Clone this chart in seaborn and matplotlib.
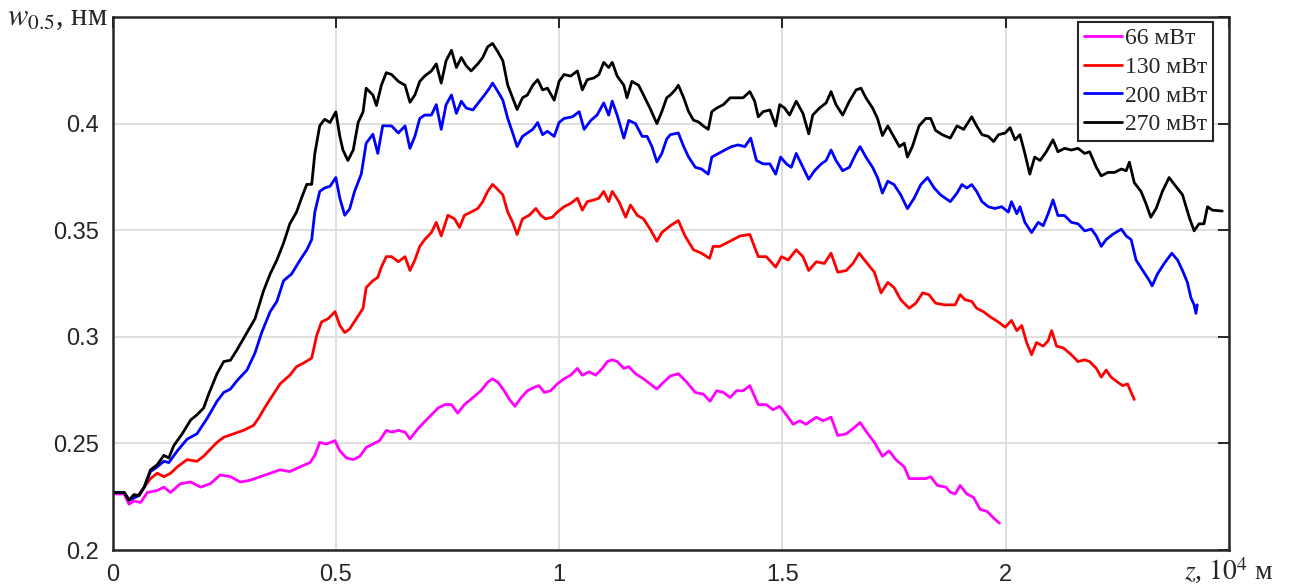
import matplotlib
matplotlib.use("Agg")
import matplotlib.pyplot as plt
import pandas as pd
import seaborn as sns


powers = ["66 мВт", "130 мВт", "200 мВт", "270 мВт"]
colors = ["#ff00ff", "#ff0000", "#0000ff", "#000000"]

xticks = [0, 0.5, 1, 1.5, 2, 2.5]
xticklabels = ["0", "0.5", "1", "1.5", "2", ""]
yticks = [0.2, 0.25, 0.3, 0.35, 0.4, 0.45]
yticklabels = ["0.2", "0.25", "0.3", "0.35", "0.4", ""]

# 66 mW
z_66 = [0, 0.026, 0.037, 0.048, 0.063, 0.078, 0.100, 0.115, 0.130, 0.152,
        0.175, 0.197, 0.219, 0.241, 0.264, 0.286, 0.308, 0.331, 0.353, 0.375,
        0.397, 0.420, 0.442, 0.453, 0.464, 0.479, 0.498, 0.509, 0.524, 0.539,
        0.554, 0.568, 0.583, 0.598, 0.613,
        0.625, 0.640, 0.655, 0.666, 0.684, 0.699, 0.714, 0.729, 0.744, 0.759,
        0.773, 0.788, 0.807, 0.825, 0.840, 0.851, 0.863, 0.877, 0.889, 0.901,
        0.915, 0.929, 0.944, 0.955, 0.967, 0.981, 0.996, 1.011, 1.026, 1.041,
        1.052, 1.067, 1.082, 1.097, 1.108, 1.119, 1.130, 1.145, 1.156, 1.171,
        1.189, 1.204, 1.219, 1.230,
        1.249, 1.267, 1.286, 1.305, 1.323, 1.338, 1.353, 1.368, 1.383, 1.397,
        1.412, 1.427, 1.446, 1.464, 1.479, 1.494, 1.509, 1.524, 1.539, 1.553,
        1.576, 1.591, 1.609, 1.624, 1.643, 1.658, 1.674, 1.687, 1.706, 1.724,
        1.739, 1.754, 1.773, 1.784, 1.802, 1.821, 1.832, 1.847, 1.866,
        1.876, 1.887, 1.898, 1.913, 1.928, 1.943, 1.958, 1.973, 1.986]
w_66 = [0.2263, 0.2263, 0.2215, 0.223, 0.2223, 0.227, 0.2279, 0.2295, 0.227, 0.2311,
        0.2319, 0.2295, 0.2311, 0.2352, 0.2344, 0.2319, 0.2327, 0.2344, 0.236, 0.2376,
        0.2368, 0.239, 0.241, 0.2444, 0.2505, 0.2497, 0.2513, 0.2465, 0.2432, 0.2424,
        0.244, 0.2481, 0.2497, 0.2513, 0.2561,
        0.2553, 0.2561, 0.2553, 0.2521, 0.2569, 0.2602, 0.2634, 0.2666, 0.2682, 0.2682,
        0.2642, 0.2682, 0.2715, 0.2747, 0.2787, 0.2803, 0.2787, 0.2747, 0.2706, 0.2674,
        0.2715, 0.2747, 0.2763, 0.2771, 0.2739, 0.2747, 0.2779, 0.2803, 0.282, 0.2852,
        0.282, 0.2836, 0.282, 0.2852, 0.2884, 0.2892, 0.2884, 0.2852, 0.286, 0.2827,
        0.2803, 0.2779, 0.2755, 0.2779,
        0.2816, 0.2827, 0.2787, 0.2739, 0.2731, 0.2698, 0.2747, 0.2739, 0.2715, 0.2747,
        0.2747, 0.2771, 0.2682, 0.2682, 0.2658, 0.2674, 0.2634, 0.259, 0.2606, 0.259,
        0.2623, 0.2606, 0.2623, 0.2537, 0.2545, 0.2569, 0.2598, 0.2558, 0.2505, 0.244,
        0.2465, 0.2424, 0.239, 0.2335, 0.2335, 0.2335, 0.2344, 0.2303, 0.2295,
        0.2271, 0.2263, 0.2303, 0.2263, 0.2247, 0.219, 0.2182, 0.215, 0.2126]

# 130 mW
z_130 = [0, 0.026, 0.037, 0.059, 0.071, 0.085, 0.100, 0.115, 0.130, 0.145,
         0.167, 0.189, 0.204, 0.219, 0.234, 0.249, 0.271, 0.293, 0.316, 0.327,
         0.345, 0.360, 0.375, 0.397, 0.412, 0.427, 0.446, 0.457, 0.468, 0.483,
         0.498, 0.509, 0.520, 0.531, 0.546, 0.561, 0.568, 0.583, 0.594, 0.602,
         0.613,
         0.625, 0.640, 0.655, 0.666, 0.677, 0.688, 0.699, 0.714, 0.725, 0.736,
         0.751, 0.766, 0.777, 0.788, 0.803, 0.818, 0.829, 0.840, 0.851, 0.863,
         0.874, 0.885, 0.896, 0.906, 0.918, 0.933, 0.948, 0.959, 0.970, 0.985,
         0.996, 1.011, 1.026, 1.041, 1.052, 1.063, 1.078, 1.089, 1.100, 1.111,
         1.119, 1.134, 1.149, 1.160, 1.175, 1.189, 1.204, 1.219, 1.230,
         1.249, 1.267, 1.282, 1.301, 1.319, 1.337, 1.345, 1.360, 1.375, 1.390,
         1.405, 1.427, 1.446, 1.464, 1.485, 1.498, 1.513, 1.531, 1.546, 1.559,
         1.576, 1.594, 1.609, 1.624, 1.643, 1.658, 1.672, 1.687, 1.706, 1.721,
         1.736, 1.750, 1.765, 1.784, 1.799, 1.814, 1.828, 1.843, 1.862,
         1.876, 1.887, 1.898, 1.909, 1.924, 1.935, 1.950, 1.965, 1.984, 1.999,
         2.013, 2.025, 2.036, 2.047, 2.058, 2.069, 2.084, 2.095, 2.103, 2.114,
         2.129, 2.147, 2.162, 2.177, 2.188, 2.203, 2.214, 2.225, 2.236, 2.251,
         2.262, 2.273, 2.281, 2.288]
w_130 = [0.227, 0.227, 0.2234, 0.226, 0.2295, 0.2335, 0.236, 0.2344, 0.236, 0.239,
         0.2424, 0.2416, 0.244, 0.2473, 0.2505, 0.2529, 0.2545, 0.2561, 0.2585, 0.2618,
         0.2682, 0.273, 0.2779, 0.282, 0.286, 0.2876, 0.290, 0.3005, 0.307, 0.3085,
         0.3118, 0.3053, 0.302, 0.3037, 0.3085, 0.3134, 0.3231, 0.3263, 0.3279, 0.3327,
         0.3376,
         0.3376, 0.3352, 0.3376, 0.3311, 0.336, 0.3424, 0.3456, 0.3489, 0.3537, 0.3473,
         0.357, 0.3553, 0.3513, 0.357, 0.3585, 0.3602, 0.3634, 0.3682, 0.3715, 0.369,
         0.3666, 0.3585, 0.3537, 0.348, 0.3553, 0.357, 0.3602, 0.357, 0.3553, 0.3561,
         0.3585, 0.361, 0.3626, 0.365, 0.3594, 0.3634, 0.3642, 0.365, 0.3682, 0.3634,
         0.3682, 0.3634, 0.3561, 0.3618, 0.357, 0.3553, 0.3505, 0.3448, 0.3489,
         0.3521, 0.3545, 0.3473, 0.3408, 0.3392, 0.3368, 0.3424, 0.3424, 0.344, 0.3456,
         0.3473, 0.348, 0.3376, 0.3376, 0.3327, 0.3376, 0.336, 0.3408, 0.3376, 0.3311,
         0.3352, 0.3344, 0.3392, 0.3303, 0.3311, 0.3344, 0.3392, 0.3352, 0.3303, 0.3206,
         0.3255, 0.3231, 0.3174, 0.3134, 0.3158, 0.3206, 0.3198, 0.3158, 0.315,
         0.315, 0.315, 0.3198, 0.3174, 0.3166, 0.3134, 0.3118, 0.3094, 0.3069, 0.3045,
         0.3077, 0.3029, 0.3053, 0.2973, 0.2916, 0.2973, 0.2956, 0.2981, 0.3029, 0.2956,
         0.2948, 0.2916, 0.2884, 0.2892, 0.2884, 0.2852, 0.2811, 0.2844, 0.2811, 0.2787,
         0.2771, 0.2779, 0.2739, 0.2706]

# 200 mW
z_200 = [0, 0.026, 0.037, 0.059, 0.071, 0.085, 0.100, 0.115, 0.126, 0.145,
         0.167, 0.189, 0.212, 0.234, 0.249, 0.264, 0.279, 0.301, 0.319, 0.334,
         0.353, 0.368, 0.383, 0.401, 0.420, 0.435, 0.446, 0.453, 0.464, 0.475,
         0.487, 0.500, 0.509, 0.520, 0.531, 0.542, 0.557, 0.568, 0.583, 0.594,
         0.605,
         0.625, 0.640, 0.655, 0.666, 0.677, 0.688, 0.699, 0.714, 0.725, 0.736,
         0.747, 0.759, 0.770, 0.781, 0.792, 0.807, 0.822, 0.833, 0.844, 0.851,
         0.863, 0.874, 0.885, 0.896, 0.906, 0.918, 0.929, 0.941, 0.952, 0.963,
         0.974, 0.989, 1.000, 1.011, 1.030, 1.045, 1.056, 1.071, 1.085, 1.100,
         1.111, 1.119, 1.130, 1.145, 1.156, 1.171, 1.186, 1.197, 1.208, 1.219,
         1.230, 1.241,
         1.249, 1.267, 1.279, 1.290, 1.305, 1.319, 1.334, 1.342, 1.357, 1.371,
         1.386, 1.401, 1.416, 1.429, 1.442, 1.457, 1.472, 1.485, 1.496, 1.509,
         1.520, 1.531, 1.546, 1.559, 1.572, 1.587, 1.598, 1.609, 1.620, 1.635,
         1.650, 1.665, 1.674, 1.687, 1.702, 1.713, 1.724, 1.736, 1.750, 1.765,
         1.780, 1.795, 1.810, 1.825, 1.840, 1.854,
         1.876, 1.891, 1.902, 1.913, 1.924, 1.935, 1.947, 1.961, 1.976, 1.991,
         2.006, 2.013, 2.025, 2.032, 2.043, 2.058, 2.073, 2.084, 2.095, 2.106,
         2.117, 2.132, 2.147, 2.162, 2.177, 2.192, 2.203, 2.214, 2.225, 2.240,
         2.259, 2.270, 2.281, 2.292, 2.307, 2.322, 2.328, 2.340, 2.355, 2.372,
         2.385, 2.396, 2.407, 2.415, 2.422, 2.426, 2.429]
w_200 = [0.227, 0.227, 0.2234, 0.2255, 0.2295, 0.2368, 0.239, 0.2416, 0.241, 0.2465,
         0.252, 0.2545, 0.2618, 0.2698, 0.2739, 0.2755, 0.2795, 0.2844, 0.2924, 0.302,
         0.3118, 0.3166, 0.3263, 0.3295, 0.336, 0.3408, 0.3456, 0.3585, 0.3682, 0.3698,
         0.3706, 0.3747, 0.365, 0.357, 0.360, 0.3682, 0.3763, 0.3908, 0.395, 0.386,
         0.399,
         0.3989, 0.3956, 0.3989, 0.3884, 0.394, 0.4024, 0.404, 0.404, 0.4089, 0.3973,
         0.4089, 0.4134, 0.4048, 0.4105, 0.4073, 0.4064, 0.4105, 0.4134, 0.4166, 0.419,
         0.415, 0.411, 0.4024, 0.3956, 0.3892, 0.394, 0.3956, 0.3973, 0.4005, 0.3948,
         0.3964, 0.394, 0.4005, 0.4024, 0.4032, 0.4056, 0.3973, 0.4015, 0.404, 0.4097,
         0.404, 0.4105, 0.404, 0.3932, 0.4015, 0.400, 0.394, 0.394, 0.3892, 0.382,
         0.386, 0.3928,
         0.3948, 0.3956, 0.3892, 0.3843, 0.3795, 0.3787, 0.3763, 0.3843, 0.386, 0.3876,
         0.3892, 0.390, 0.3892, 0.3932, 0.3827, 0.3811, 0.3811, 0.3763, 0.3843, 0.3811,
         0.3795, 0.386, 0.3795, 0.3739, 0.3779, 0.3811, 0.3827, 0.3876, 0.3827, 0.3779,
         0.3795, 0.386, 0.3892, 0.3843, 0.3795, 0.3747, 0.3674, 0.373, 0.3714, 0.3666,
         0.3601, 0.365, 0.3714, 0.3747, 0.3698, 0.3666,
         0.3634, 0.3674, 0.3714, 0.3698, 0.3714, 0.3682, 0.3634, 0.361, 0.3602, 0.361,
         0.3585, 0.3634, 0.3577, 0.361, 0.3537, 0.3489, 0.3537, 0.3521, 0.3577, 0.3642,
         0.3569, 0.3569, 0.3537, 0.353, 0.3497, 0.3505, 0.3473, 0.3424, 0.3456, 0.3481,
         0.3505, 0.3473, 0.3456, 0.336, 0.3311, 0.3263, 0.3239, 0.3295, 0.3344, 0.3392,
         0.336, 0.3311, 0.3255, 0.3182, 0.315, 0.311, 0.315]

# 270 mW
z_270 = [0, 0.026, 0.037, 0.048, 0.059, 0.071, 0.085, 0.100, 0.115, 0.126,
         0.137, 0.156, 0.175, 0.189, 0.204, 0.215, 0.234, 0.249, 0.264, 0.279,
         0.301, 0.319, 0.338, 0.353, 0.368, 0.383, 0.397, 0.412, 0.423, 0.435,
         0.446, 0.453, 0.464, 0.475, 0.487, 0.500, 0.509, 0.516, 0.527, 0.539,
         0.550, 0.561, 0.568, 0.583, 0.591, 0.602, 0.613,
         0.625, 0.640, 0.655, 0.666, 0.677, 0.688, 0.699, 0.714, 0.725, 0.736,
         0.747, 0.759, 0.770, 0.781, 0.792, 0.803, 0.818, 0.829, 0.840, 0.851,
         0.863, 0.874, 0.885, 0.896, 0.906, 0.918, 0.929, 0.941, 0.952, 0.963,
         0.974, 0.989, 1.000, 1.011, 1.026, 1.041, 1.052, 1.063, 1.078, 1.089,
         1.100, 1.111, 1.119, 1.130, 1.145, 1.152, 1.163, 1.178, 1.189, 1.204,
         1.219, 1.230, 1.241,
         1.249, 1.260, 1.267, 1.279, 1.290, 1.301, 1.312, 1.323, 1.334, 1.342,
         1.353, 1.368, 1.383, 1.397, 1.412, 1.427, 1.438, 1.446, 1.457, 1.472,
         1.485, 1.494, 1.505, 1.516, 1.531, 1.546, 1.559, 1.568, 1.583, 1.598,
         1.609, 1.620, 1.635, 1.650, 1.665, 1.676, 1.687, 1.702, 1.713, 1.724,
         1.736, 1.747, 1.762, 1.773, 1.780, 1.791, 1.806, 1.821, 1.832, 1.843,
         1.858,
         1.876, 1.891, 1.906, 1.924, 1.935, 1.947, 1.961, 1.973, 1.984, 1.999,
         2.010, 2.021, 2.032, 2.043, 2.054, 2.065, 2.077, 2.091, 2.106, 2.117,
         2.132, 2.147, 2.162, 2.177, 2.188, 2.203, 2.214, 2.229, 2.244, 2.259,
         2.270, 2.277, 2.288, 2.303, 2.314, 2.325, 2.337, 2.351, 2.366, 2.381,
         2.396, 2.411, 2.422, 2.433, 2.444, 2.452, 2.463, 2.485]
w_270 = [0.227, 0.227, 0.2234, 0.226, 0.2255, 0.2295, 0.2376, 0.240, 0.2444, 0.2432,
         0.2489, 0.2545, 0.261, 0.2634, 0.2666, 0.273, 0.2827, 0.2884, 0.289, 0.294,
         0.302, 0.3085, 0.3215, 0.3295, 0.336, 0.344, 0.353, 0.3585, 0.365, 0.3715,
         0.3715, 0.386, 0.399, 0.402, 0.4005, 0.4055, 0.394, 0.3876, 0.3827, 0.3876,
         0.4005, 0.4055, 0.4166, 0.4134, 0.4085, 0.418, 0.4239,
         0.423, 0.4198, 0.418, 0.410, 0.4134, 0.4198, 0.4223, 0.4247, 0.428, 0.419,
         0.4295, 0.4344, 0.4263, 0.431, 0.4271, 0.4247, 0.428, 0.431, 0.436, 0.4376,
         0.4336, 0.4295, 0.418, 0.4121, 0.4066, 0.4121, 0.4134, 0.418, 0.4206, 0.4158,
         0.4166, 0.411, 0.4198, 0.423, 0.4223, 0.4247, 0.4158, 0.4206, 0.4214, 0.423,
         0.4287, 0.4263, 0.4287, 0.4223, 0.418, 0.4121, 0.4198, 0.418, 0.4134, 0.407,
         0.400, 0.4056, 0.4121,
         0.4134, 0.4158, 0.418, 0.4121, 0.4056, 0.4016, 0.4008, 0.3989, 0.3973, 0.4056,
         0.4073, 0.4089, 0.4121, 0.4121, 0.4121, 0.415, 0.4105, 0.4032, 0.4056, 0.4064,
         0.3989, 0.4089, 0.4073, 0.404, 0.4105, 0.4048, 0.3952, 0.404, 0.4073, 0.4097,
         0.415, 0.4089, 0.404, 0.4105, 0.4158, 0.4166, 0.4121, 0.4073, 0.4024, 0.3944,
         0.3989, 0.3948, 0.3892, 0.3908, 0.3843, 0.3892, 0.3989, 0.4024, 0.4024, 0.3968,
         0.3948,
         0.3932, 0.3989, 0.3973, 0.4032, 0.3989, 0.3948, 0.394, 0.3916, 0.3948, 0.3956,
         0.3981, 0.3924, 0.3948, 0.386, 0.3763, 0.3843, 0.3827, 0.3868, 0.3924, 0.3868,
         0.3884, 0.3876, 0.3884, 0.386, 0.3868, 0.3795, 0.3755, 0.3771, 0.3771, 0.3787,
         0.3779, 0.3819, 0.3723, 0.3682, 0.3626, 0.3561, 0.3602, 0.3682, 0.3747, 0.3706,
         0.3666, 0.3561, 0.3497, 0.353, 0.353, 0.361, 0.3594, 0.359]


frames = []
for p, z, w in zip(powers, [z_66, z_130, z_200, z_270], [w_66, w_130, w_200, w_270]):
    frames.append(pd.DataFrame({"z": z, "w": w, "power": p}))
df = pd.concat(frames, ignore_index=True)

sns.set_style("white")
plt.rcParams["font.family"] = ["Liberation Sans", "DejaVu Sans"]
plt.rcParams["mathtext.fontset"] = "stix"

fig = plt.figure(figsize=(12.92, 5.86), dpi=100)
ax = fig.add_axes([0.0871, 0.0614, 0.8641, 0.9096])

sns.lineplot(data=df, x="z", y="w", hue="power", hue_order=powers,
             palette=dict(zip(powers, colors)), sort=False, estimator=None,
             linewidth=2, legend=False, ax=ax)

ax.set_xlim(0, 2.5)
ax.set_ylim(0.2, 0.45)
ax.set_xticks(xticks)
ax.set_xticklabels(xticklabels)
ax.set_yticks(yticks)
ax.set_yticklabels(yticklabels)
ax.set_xlabel("")
ax.set_ylabel("")
ax.grid(True, color="#dcdcdc", linewidth=1.3)
ax.set_axisbelow(True)
ax.tick_params(direction="in", length=8, width=1.4, top=True, right=True,
               labelsize=17, colors="#262626", pad=10)
for s in ax.spines.values():
    s.set_color("#262626")
    s.set_linewidth(1.8)

# axis names sit where the last tick labels would be
ax.text(-0.004, 0.986, r"$w_{0.5}$, нм", transform=ax.transAxes, ha="right",
        va="baseline", fontsize=22, family="Liberation Serif", color="#262626")
ax.text(1.0, -0.057, r"$z$, $10^4$ м", transform=ax.transAxes, ha="center",
        va="baseline", fontsize=20, family="Liberation Serif", color="#262626")

leg = ax.legend(ax.lines[:4], powers, loc="upper right",
                bbox_to_anchor=(0.9857, 0.9906), borderaxespad=0,
                prop={"family": "Liberation Serif", "size": 17},
                fancybox=False, framealpha=1, edgecolor="#262626",
                handlelength=1.6, handletextpad=0.12, labelspacing=0.3,
                borderpad=0.25)
leg.get_frame().set_linewidth(1.5)

fig.savefig("out.png", dpi=100)
